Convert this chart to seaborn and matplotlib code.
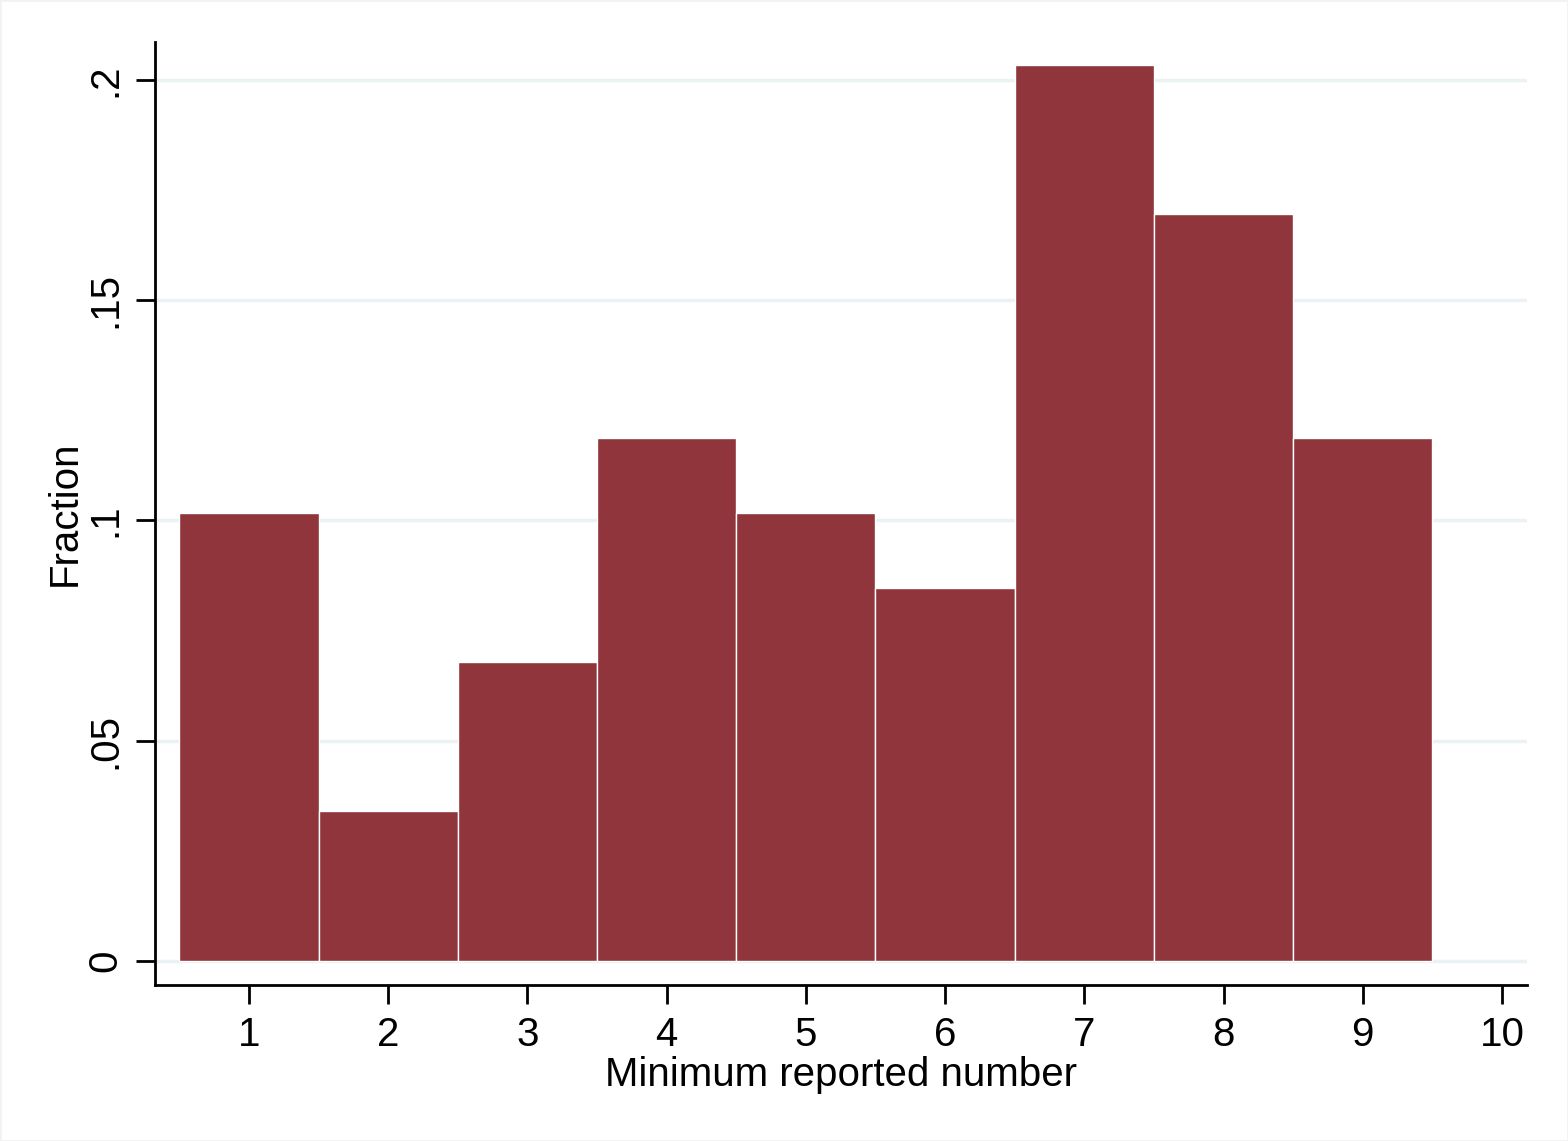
import numpy as np
import pandas as pd
import matplotlib
matplotlib.use("Agg")
import matplotlib.pyplot as plt
import seaborn as sns

# Minimum reported number (1-9) and how many respondents gave it
numbers = [1, 2, 3, 4, 5, 6, 7, 8, 9]
counts = [6, 2, 4, 7, 6, 5, 12, 10, 7]
x_ticks = [1, 2, 3, 4, 5, 6, 7, 8, 9, 10]
y_ticks = [0, 0.05, 0.1, 0.15, 0.2]
y_tick_labels = ["0", ".05", ".1", ".15", ".2"]

df = pd.DataFrame({"number": numbers, "count": counts})

sns.set_style("white")
plt.rcParams["font.family"] = ["Liberation Sans", "DejaVu Sans"]
plt.rcParams["text.color"] = "black"
plt.rcParams["axes.labelcolor"] = "black"
plt.rcParams["xtick.color"] = "black"
plt.rcParams["ytick.color"] = "black"

fig = plt.figure(figsize=(15.68, 11.41), dpi=100)
ax = fig.add_axes([155 / 1568, 1 - 985 / 1141, (1527 - 155) / 1568, (985 - 42) / 1141])

# horizontal grid behind the bars
for yt in y_ticks:
    ax.axhline(yt, color="#eaf2f3", lw=2.5, zorder=0)

sns.histplot(data=df, x="number", weights="count", stat="probability",
             discrete=True, color="#90353b", alpha=1, edgecolor="white",
             linewidth=1, ax=ax, zorder=2)

ax.set_xlim(0.325, 10.18)
ax.set_ylim(-0.0055, 0.2086)
ax.set_xticks(x_ticks)
ax.set_yticks(y_ticks)
ax.set_yticklabels(y_tick_labels, rotation=90, va="center")
ax.tick_params(axis="both", bottom=True, left=True, labelsize=29,
               direction="out", length=14, width=2, colors="black", pad=8)

ax.set_xlabel("Minimum reported number", fontsize=29, labelpad=2, color="black")
ax.set_ylabel("Fraction", fontsize=29, labelpad=2, color="black")

sns.despine(ax=ax)
for side in ["left", "bottom"]:
    ax.spines[side].set_linewidth(2)
    ax.spines[side].set_color("black")

# faint outer frame like the original export
fig.patches.append(plt.Rectangle((0, 0), 1, 1, transform=fig.transFigure,
                                 fill=False, edgecolor="#f2f2f2", lw=2))

fig.savefig("out.png", dpi=100)
